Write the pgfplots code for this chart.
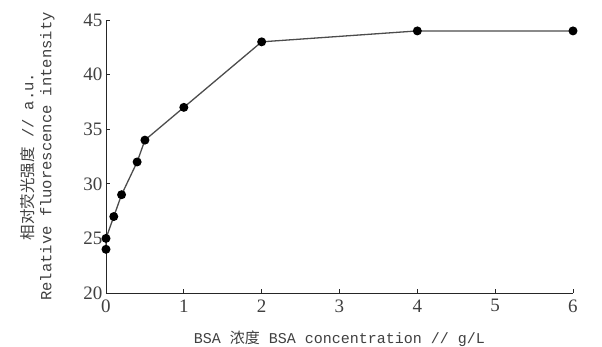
\documentclass[border=0pt]{standalone}
\usepackage{pgfplots}
\pgfplotsset{compat=1.18}
\usepackage{fontspec}
\setmainfont{Liberation Serif}
\setmonofont{Liberation Mono}
\newfontfamily\cjk{Noto Sans CJK SC}
\begin{document}
\begin{tikzpicture}[x=1pt,y=1pt]
\begin{axis}[
  at={(0,0)}, anchor=south west,
  scale only axis, width=467pt, height=273pt,
  xmin=0, xmax=6, ymin=20, ymax=45,
  axis x line=bottom, axis y line=left,
  axis line style={-, line width=0.9pt, black!85},
  xtick={0,1,2,3,4,5,6}, ytick={20,25,30,35,40,45},
  tick align=inside, major tick length=4pt,
  tick style={line width=0.8pt, black!85},
  ticklabel style={font=\fontsize{19}{21}\selectfont, text=black!75},
  xticklabel style={yshift=-3pt},
  /pgf/number format/assume math mode=true,
  xlabel={\ttfamily BSA {\cjk 浓度} BSA concentration // g/L},
  xlabel style={font=\fontsize{15}{17}\selectfont, text=black!75, yshift=-12pt},
  ylabel={\ttfamily{\cjk 相对荧光强度} // a.u.\\\ttfamily Relative fluorescence intensity},
  ylabel style={font=\fontsize{15.5}{18}\selectfont, text=black!75, align=center, yshift=22pt},
  clip=false,
]
\addplot[color=black!70, line width=1.3pt, mark=*, mark size=3.8pt, mark options={fill=black, draw=black}]
coordinates {(0,24) (0,25) (0.1,27) (0.2,29) (0.4,32) (0.5,34) (1,37) (2,43) (4,44) (6,44)};
\end{axis}
\pgfresetboundingbox
\path (-106,-54) rectangle (496,293);
\end{tikzpicture}
\end{document}
